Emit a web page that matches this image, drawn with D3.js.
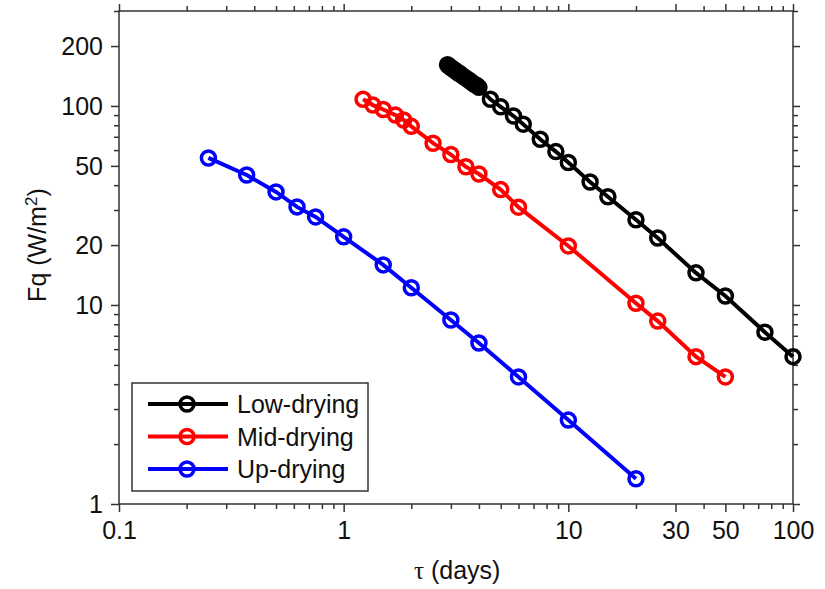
<!DOCTYPE html>
<html>
<head>
<meta charset="utf-8">
<script src="https://cdn.jsdelivr.net/npm/d3@7"></script>
<style>
  body { margin: 0; background: #fff; }
  text { font-family: "Liberation Sans", Arial, sans-serif; fill: #111; }
</style>
</head>
<body>
<div id="chart"></div>
<script>
// data (tau in days, Fq in W/m2)
const lowTau = [2.9, 2.95, 3.0, 3.05, 3.1, 3.15, 3.2, 3.25, 3.3, 3.4, 3.5, 3.6, 3.7, 3.8, 3.9, 4.0, 4.5, 5, 5.7, 6.3, 7.5, 8.8, 10, 12.5, 15, 20, 25, 37, 50, 75, 100];
const lowFq  = [161, 158, 156, 154, 152, 150, 148, 146, 145, 141, 138, 135, 132, 129, 127, 124, 108, 99, 89, 81, 68, 59, 52, 41.5, 35, 26.8, 21.7, 14.5, 11.1, 7.3, 5.5];
const midTau = [1.22, 1.35, 1.5, 1.7, 1.85, 2.0, 2.5, 3.0, 3.5, 4.0, 5, 6, 10, 20, 25, 37, 50];
const midFq  = [108, 101, 96, 90, 85, 79, 65, 57, 49.5, 45.5, 38, 31, 19.8, 10.2, 8.3, 5.5, 4.35];
const upTau  = [0.25, 0.37, 0.5, 0.62, 0.75, 1.0, 1.5, 2, 3, 4, 6, 10, 20];
const upFq   = [54.8, 45, 37, 31.1, 27.7, 22, 15.9, 12.2, 8.4, 6.44, 4.35, 2.64, 1.34];

const seriesNames  = ["Low-drying", "Mid-drying", "Up-drying"];
const seriesColors = ["#000000", "#ff0000", "#0000ff"];

const xTickLabels = [0.1, 1, 10, 30, 50, 100];
const yTickLabels = [1, 10, 20, 50, 100, 200];

const W = 825, H = 589;
const margin = {top: 11, right: 32, bottom: 85, left: 119};
const width = W - margin.left - margin.right,
      height = H - margin.top - margin.bottom;
const fontPx = "25px";

const svg = d3.select("#chart").append("svg")
  .attr("width", W).attr("height", H);
const g = svg.append("g")
  .attr("transform", `translate(${margin.left},${margin.top})`);

const x = d3.scaleLog().domain([0.1, 100]).range([0, width]);
const y = d3.scaleLog().domain([1, 300]).range([height, 0]);

// every log tick 1..9 per decade
function logTicks(lo, hi) {
  const out = [];
  for (let e = Math.floor(Math.log10(lo)); e <= Math.ceil(Math.log10(hi)); e++) {
    for (let m = 1; m < 10; m++) {
      const v = +(m * Math.pow(10, e)).toPrecision(3);
      if (v >= lo - 1e-9 && v <= hi + 1e-9) out.push(v);
    }
  }
  return out;
}
const xTicks = logTicks(0.1, 100);
const yTicks = logTicks(1, 300);
const isLabX = v => xTickLabels.some(t => Math.abs(t - v) < 1e-9);
const isLabY = v => yTickLabels.some(t => Math.abs(t - v) < 1e-9);

const axisColor = "#333";
// frame
g.append("rect").attr("width", width).attr("height", height)
  .attr("fill", "none").attr("stroke", axisColor).attr("stroke-width", 1.5);

const fmt = v => (v < 1 ? v.toString() : d3.format("d")(v));

// bottom / top / left / right axes
const axB = g.append("g").attr("transform", `translate(0,${height})`)
  .call(d3.axisBottom(x).tickValues(xTicks).tickFormat(d => isLabX(d) ? fmt(d) : "")
    .tickSize(0).tickPadding(17));
const axT = g.append("g")
  .call(d3.axisTop(x).tickValues(xTicks).tickFormat("").tickSize(0));
const axL = g.append("g")
  .call(d3.axisLeft(y).tickValues(yTicks).tickFormat(d => isLabY(d) ? fmt(d) : "")
    .tickSize(0).tickPadding(16));
const axR = g.append("g").attr("transform", `translate(${width},0)`)
  .call(d3.axisRight(y).tickValues(yTicks).tickFormat("").tickSize(0));

[axB, axT, axL, axR].forEach(a => {
  a.select(".domain").remove();
  a.selectAll("text").style("font-size", fontPx).attr("fill", "#111");
});
axB.selectAll(".tick line").attr("y2", d => isLabX(d) ? 8 : 5);
axT.selectAll(".tick line").attr("y2", d => isLabX(d) ? -7 : -5);
axL.selectAll(".tick line").attr("x2", d => isLabY(d) ? -8 : -5);
axR.selectAll(".tick line").attr("x2", d => isLabY(d) ? 7 : 5);
[axB, axT, axL, axR].forEach(a =>
  a.selectAll(".tick line").attr("stroke", axisColor).attr("stroke-width", 1.5));
axL.selectAll("text").attr("dy", "0.35em");

// axis titles
const xt = svg.append("text")
  .attr("x", margin.left + x(3.2)).attr("y", 579)
  .attr("text-anchor", "middle").style("font-size", fontPx);
xt.append("tspan").style("font-family", "'Liberation Serif', 'Times New Roman', serif").text("\u03c4");
xt.append("tspan").text(" (days)");
const yt = svg.append("text")
  .attr("transform", `translate(46,${margin.top + y(20)}) rotate(-90)`)
  .attr("text-anchor", "middle").style("font-size", fontPx);
yt.append("tspan").text("Fq (W/m");
yt.append("tspan").attr("dy", -9).style("font-size", "17px").text("2");
yt.append("tspan").attr("dy", 9).text(")");

// series
const series = [
  {name: seriesNames[0], color: seriesColors[0], pts: lowTau.map((t, i) => [t, lowFq[i]])},
  {name: seriesNames[1], color: seriesColors[1], pts: midTau.map((t, i) => [t, midFq[i]])},
  {name: seriesNames[2], color: seriesColors[2], pts: upTau.map((t, i) => [t, upFq[i]])}
];
const line = d3.line().x(d => x(d[0])).y(d => y(d[1]));

series.slice().reverse().forEach(s => {
  const sg = g.append("g");
  sg.append("path").datum(s.pts)
    .attr("d", line).attr("fill", "none")
    .attr("stroke", s.color).attr("stroke-width", 4);
  sg.selectAll("circle").data(s.pts).join("circle")
    .attr("cx", d => x(d[0])).attr("cy", d => y(d[1]))
    .attr("r", 7).attr("fill", "none")
    .attr("stroke", s.color).attr("stroke-width", 3.5);
});

// legend
const lg = svg.append("g").attr("transform", "translate(132,383)");
lg.append("rect").attr("width", 236).attr("height", 108)
  .attr("fill", "#fff").attr("stroke", axisColor).attr("stroke-width", 1.5);
series.forEach((s, i) => {
  const ly = 21 + i * 32.5;
  lg.append("line").attr("x1", 16).attr("x2", 96).attr("y1", ly).attr("y2", ly)
    .attr("stroke", s.color).attr("stroke-width", 4);
  lg.append("circle").attr("cx", 55).attr("cy", ly).attr("r", 7)
    .attr("fill", "none").attr("stroke", s.color).attr("stroke-width", 3.5);
  lg.append("text").attr("x", 105).attr("y", ly).attr("dy", "0.36em")
    .style("font-size", fontPx).text(s.name);
});
</script>
</body>
</html>
